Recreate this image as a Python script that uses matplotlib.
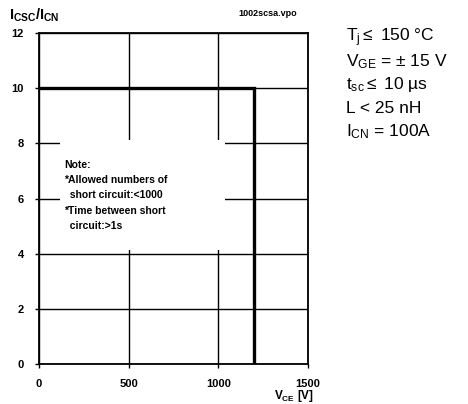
import matplotlib
matplotlib.use("Agg")
import matplotlib.pyplot as plt
from matplotlib.patches import Rectangle

plt.rcParams['font.family'] = ['Liberation Sans', 'DejaVu Sans']
plt.rcParams['mathtext.fontset'] = 'custom'
plt.rcParams['mathtext.rm'] = 'Liberation Sans'
plt.rcParams['mathtext.bf'] = 'Liberation Sans:bold'
plt.rcParams['mathtext.it'] = 'Liberation Sans'

# Data: SCSOA boundary
vce = [0, 1200, 1200]
icsc_ratio = [10, 10, 0]

x_ticks = [0, 500, 1000, 1500]
y_ticks = [0, 2, 4, 6, 8, 10, 12]

note_lines = ["Note:", "*Allowed numbers of", "  short circuit:<1000",
              "*Time between short", "  circuit:>1s"]
cond_lines = [r"T$_\mathregular{j}$$\leq$ 150 °C",
              r"V$_\mathregular{GE}$ = ± 15 V",
              r"t$_\mathregular{sc}$$\leq$ 10 µs",
              "L < 25 nH",
              r"I$_\mathregular{CN}$ = 100A"]

W, H = 468, 404
fig = plt.figure(figsize=(W / 100, H / 100), dpi=100)
ax = fig.add_axes([39 / W, 1 - 364 / H, (308 - 39) / W, (364 - 33) / H])

ax.set_xlim(0, 1500)
ax.set_ylim(0, 12)
ax.set_xticks(x_ticks)
ax.set_yticks(y_ticks)
ax.set_xticklabels([str(v) for v in x_ticks], fontweight='bold', fontsize=8)
ax.set_yticklabels([str(v) for v in y_ticks], fontweight='bold', fontsize=8)
ax.tick_params(direction='out', length=3, width=1, color='black')
ax.tick_params(axis='x', pad=8)
ax.tick_params(axis='y', pad=8)
ax.grid(True, color='black', linewidth=1.0)
ax.set_axisbelow(True)
for s in ax.spines.values():
    s.set_linewidth(1.3)

ax.plot(vce, icsc_ratio, color='black', linewidth=2.4, zorder=3, solid_joinstyle='miter')

# note box (white, hides grid)
x0 = (60 - 39) / 269 * 1500
x1 = (225 - 39) / 269 * 1500
y_top = (364 - 140) / 331 * 12
y_bot = (364 - 250) / 331 * 12
ax.add_patch(Rectangle((x0, y_bot), x1 - x0, y_top - y_bot, facecolor='white',
                       edgecolor='none', zorder=2))
for i, line in enumerate(note_lines):
    fig.text(64 / W, 1 - (165 + 15.2 * i) / H, line, fontsize=7.5, fontweight='bold',
             va='center', ha='left')

fig.text(9 / W, 1 - 15 / H, r"$\mathbf{I_{CSC}/I_{CN}}$", fontsize=10.5, va='center', ha='left')
fig.text(268 / W, 1 - 13 / H, "1002scsa.vpo", fontsize=6.5, fontweight='bold',
         va='center', ha='center')
fig.text(294 / W, 1 - 396 / H, r"$\mathbf{V_{CE}}$ [V]", fontsize=8.5, fontweight='bold',
         va='center', ha='center')

for i, line in enumerate(cond_lines):
    fig.text(346 / W, 1 - (38 + 23.5 * i) / H, line, fontsize=12.5, va='center', ha='left')

fig.savefig("out.png", dpi=100)
